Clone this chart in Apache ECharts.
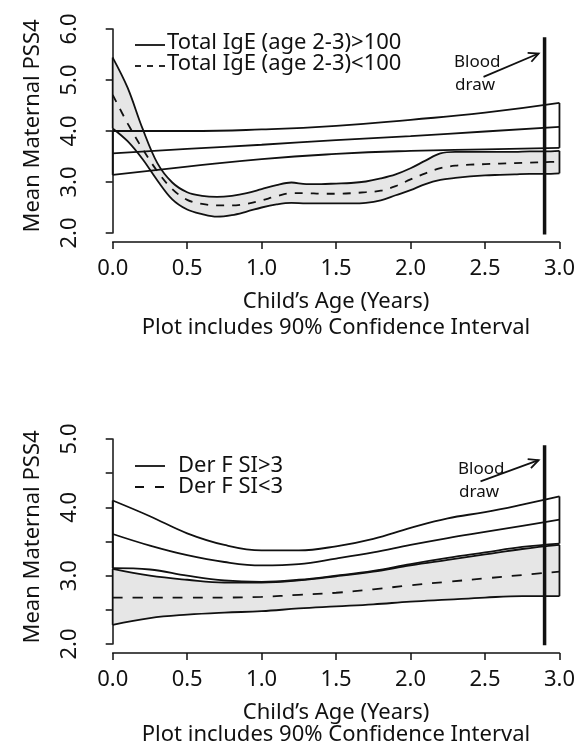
<!DOCTYPE html>
<html><head><meta charset="utf-8">
<script src="https://cdn.jsdelivr.net/npm/echarts@6/dist/echarts.min.js"></script>
<style>html,body{margin:0;padding:0;background:#fff}#c{width:578px;height:755px}</style>
</head><body><div id="c"></div>
<script>
// ---------- DATA ----------
// Top panel: Total IgE (age 2-3) < 100  (dashed mean, shaded 90% CI)
const ageTopLow = [0,0.1,0.2,0.3,0.4,0.5,0.6,0.7,0.8,0.9,1.0,1.1,1.2,1.3,1.4,1.5,1.6,1.7,1.8,1.9,2.0,2.1,2.2,2.3,2.4,2.5,2.6,2.7,2.8,2.9,3.0];
const igeLowUpper = [5.44,4.85,4.05,3.37,2.99,2.80,2.73,2.71,2.73,2.78,2.86,2.94,2.99,2.96,2.96,2.97,2.98,3.01,3.07,3.15,3.27,3.42,3.56,3.59,3.59,3.59,3.59,3.59,3.60,3.60,3.61];
const igeLowMean  = [4.71,4.15,3.65,3.21,2.86,2.65,2.57,2.54,2.54,2.57,2.64,2.72,2.78,2.78,2.77,2.77,2.78,2.80,2.83,2.92,3.05,3.17,3.27,3.32,3.34,3.35,3.36,3.37,3.38,3.39,3.40];
const igeLowLower = [4.05,3.80,3.45,3.03,2.66,2.46,2.37,2.32,2.35,2.42,2.50,2.56,2.59,2.58,2.58,2.58,2.58,2.59,2.64,2.74,2.84,2.96,3.04,3.08,3.11,3.13,3.14,3.15,3.16,3.16,3.17];
// Top panel: Total IgE (age 2-3) > 100  (solid mean, unshaded 90% CI)
const ageTopHigh = [0,0.5,1.0,1.5,2.0,2.5,3.0];
const igeHighUpper = [4.00,4.00,4.03,4.10,4.22,4.36,4.55];
const igeHighMean  = [3.56,3.65,3.73,3.82,3.90,3.99,4.08];
const igeHighLower = [3.14,3.30,3.45,3.55,3.61,3.64,3.67];
// Bottom panel: Der F SI
const ageBottom = [0,0.25,0.5,0.75,1.0,1.25,1.5,1.75,2.0,2.25,2.5,2.75,3.0];
const derHighUpper = [4.10,3.87,3.62,3.45,3.37,3.37,3.43,3.54,3.70,3.84,3.93,4.04,4.16];
const derHighMean  = [3.61,3.44,3.30,3.20,3.15,3.17,3.25,3.34,3.45,3.55,3.64,3.73,3.82];
const derHighLower = [3.11,3.09,3.00,2.93,2.91,2.94,3.00,3.07,3.17,3.26,3.34,3.42,3.47];
const derLowUpper  = [3.10,3.00,2.94,2.90,2.90,2.93,2.99,3.06,3.15,3.23,3.31,3.39,3.45];
const derLowMean   = [2.68,2.68,2.68,2.68,2.69,2.72,2.75,2.80,2.86,2.91,2.96,3.01,3.06];
const derLowLower  = [2.28,2.38,2.43,2.46,2.48,2.52,2.55,2.58,2.62,2.65,2.68,2.70,2.70];
// Blood draw marker (age, y-range) and arrow (start, end) for each panel
const bloodAge = 2.9;
const bloodRangeTop = [1.97, 5.84];
const bloodRangeBottom = [1.98, 4.91];
const arrowTop = [[2.49,5.06],[2.86,5.52]];
const arrowBottom = [[2.47,4.38],[2.86,4.69]];
// Texts
const legendTop = ['Total IgE (age 2-3)>100','Total IgE (age 2-3)<100'];
const legendBottom = ['Der F SI>3','Der F SI<3'];
const xTitle = 'Child’s Age (Years)';
const subTitle = 'Plot includes 90% Confidence Interval';
const yTitle = 'Mean Maternal PSS4';

// ---------- CHART ----------
const FONT = 'Noto Sans';
const INK = '#111';
const GRAY = '#e6e6e6';
const chart = echarts.init(document.getElementById('c'), null, {renderer:'canvas'});

function pts(xs, ys){ return xs.map((x,i)=>[x, ys[i]]); }
function lineS(gi, data, dash, width, smooth, z){
  return {type:'line', xAxisIndex:gi, yAxisIndex:gi, data:data, symbol:'none', smooth:smooth,
    silent:true, clip:false, z:z||3, animation:false,
    lineStyle:{color:INK, width:width||1.8, type:dash||'solid', cap:'butt'}};
}
// shaded band: stacked area (lower bound + band width). Data given as [y, x] so that
// the y dimension is the stacked one.
function band(gi, xs, lo, up, smooth, key){
  const common = {type:'line', xAxisIndex:gi, yAxisIndex:gi, stack:key, symbol:'none', smooth:smooth,
    encode:{x:1, y:0}, silent:true, animation:false, z:1};
  return [
    Object.assign({}, common, {data:xs.map((x,i)=>[lo[i], x]), lineStyle:{opacity:0, width:0}}),
    Object.assign({}, common, {data:xs.map((x,i)=>[up[i]-lo[i], x]), lineStyle:{opacity:0, width:0},
      areaStyle:{color:GRAY, opacity:1}})
  ];
}
function edges(gi, xs, lo, up){
  const n = xs.length-1;
  return [
    lineS(gi, [[xs[0], lo[0]],[xs[0], up[0]]], 'solid', 1.8, false),
    lineS(gi, [[xs[n], lo[n]],[xs[n], up[n]]], 'solid', 1.8, false)
  ];
}
function xAx(gi){
  return {type:'value', gridIndex:gi, min:0, max:3, interval:0.5, offset:9,
    axisLine:{show:true, lineStyle:{color:INK, width:1.5}},
    axisTick:{show:true, length:7, lineStyle:{color:INK, width:1.5}},
    axisLabel:{margin:16, color:INK, fontSize:22, fontFamily:FONT, showMinLabel:true, showMaxLabel:true,
      formatter:v=>v.toFixed(1)},
    splitLine:{show:false},
    name:xTitle, nameLocation:'middle', nameGap:49,
    nameTextStyle:{color:INK, fontSize:22, fontFamily:FONT}};
}
function yAx(gi, max, interval){
  return {type:'value', gridIndex:gi, min:2, max:max, interval:interval, offset:19.4,
    axisLine:{show:true, lineStyle:{color:INK, width:1.5}},
    axisTick:{show:true, length:7, lineStyle:{color:INK, width:1.5}},
    axisLabel:{rotate:90, margin:13, color:INK, fontSize:22, fontFamily:FONT, showMinLabel:true, showMaxLabel:true,
      formatter:v=> Math.abs(v-Math.round(v))<1e-6 ? v.toFixed(1) : ''},
    splitLine:{show:false}};
}

const series = [].concat(
  band(0, ageTopLow, igeLowLower, igeLowUpper, 0.35, 'topBand'),
  [lineS(0, pts(ageTopLow, igeLowUpper), 'solid', 1.8, 0.35),
   lineS(0, pts(ageTopLow, igeLowLower), 'solid', 1.8, 0.35),
   lineS(0, pts(ageTopLow, igeLowMean), [8,8], 1.8, 0.35)],
  edges(0, ageTopLow, igeLowLower, igeLowUpper),
  [lineS(0, pts(ageTopHigh, igeHighUpper), 'solid', 1.8, 0.5),
   lineS(0, pts(ageTopHigh, igeHighMean), 'solid', 1.8, 0.5),
   lineS(0, pts(ageTopHigh, igeHighLower), 'solid', 1.8, 0.5)],
  edges(0, ageTopHigh, igeHighLower, igeHighUpper),
  [lineS(0, [[bloodAge, bloodRangeTop[0]],[bloodAge, bloodRangeTop[1]]], 'solid', 3.5, false, 5)],

  band(1, ageBottom, derLowLower, derLowUpper, 0.4, 'botBand'),
  [lineS(1, pts(ageBottom, derLowUpper), 'solid', 1.8, 0.4),
   lineS(1, pts(ageBottom, derLowLower), 'solid', 1.8, 0.4),
   lineS(1, pts(ageBottom, derLowMean), [10,10], 1.8, 0.4)],
  edges(1, ageBottom, derLowLower, derLowUpper),
  [lineS(1, pts(ageBottom, derHighUpper), 'solid', 1.8, 0.4),
   lineS(1, pts(ageBottom, derHighMean), 'solid', 1.8, 0.4),
   lineS(1, pts(ageBottom, derHighLower), 'solid', 1.8, 0.4)],
  edges(1, ageBottom, derHighLower, derHighUpper),
  [lineS(1, [[bloodAge, bloodRangeBottom[0]],[bloodAge, bloodRangeBottom[1]]], 'solid', 3.5, false, 5)]
);

chart.setOption({
  animation:false,
  backgroundColor:'#fff',
  grid:[
    {left:112.7, right:18.5, top:29, height:204},
    {left:112.7, right:18.5, top:439, height:205}
  ],
  xAxis:[xAx(0), xAx(1)],
  yAxis:[yAx(0, 6, 1), yAx(1, 5, 0.5)],
  series:series
});

// ---------- ANNOTATIONS ----------
function txt(x, y, s, size, rot){
  return {type:'text', x:x, y:y, rotation:rot||0, silent:true,
    style:{text:s, fill:INK, fontSize:size||22, fontFamily:FONT, align: rot ? 'center':'left', verticalAlign:'middle'}};
}
function seg(x1,y1,x2,y2,dash){
  return {type:'line', silent:true, shape:{x1:x1,y1:y1,x2:x2,y2:y2},
    style:{stroke:INK, lineWidth:1.8, lineDash:dash||null}};
}
function arrow(gi, a){
  const p0 = chart.convertToPixel({gridIndex:gi}, a[0]);
  const p1 = chart.convertToPixel({gridIndex:gi}, a[1]);
  const ang = Math.atan2(p1[1]-p0[1], p1[0]-p0[0]);
  const L = 11, w = 0.45;
  const h1 = [p1[0]-L*Math.cos(ang-w), p1[1]-L*Math.sin(ang-w)];
  const h2 = [p1[0]-L*Math.cos(ang+w), p1[1]-L*Math.sin(ang+w)];
  return [
    {type:'polyline', silent:true, shape:{points:[p0,p1]}, style:{stroke:INK, lineWidth:1.8, fill:null}},
    {type:'polyline', silent:true, shape:{points:[h1,p1,h2]}, style:{stroke:INK, lineWidth:1.8, fill:null}}
  ];
}
const g = [
  txt(33, 126, yTitle, 22, Math.PI/2),
  txt(33, 537, yTitle, 22, Math.PI/2),
  {type:'text', x:336, y:328, silent:true, style:{text:subTitle, fill:INK, fontSize:22, fontFamily:FONT, align:'center', verticalAlign:'middle'}},
  {type:'text', x:336, y:735, silent:true, style:{text:subTitle, fill:INK, fontSize:22, fontFamily:FONT, align:'center', verticalAlign:'middle'}},
  seg(135, 45, 165, 45),
  txt(167, 43, legendTop[0]),
  seg(135, 66, 166, 66, [6,6]),
  txt(167, 64, legendTop[1]),
  seg(135, 466, 165, 466),
  txt(178, 466, legendBottom[0]),
  seg(135, 487, 166, 487, [9,11]),
  txt(178, 487, legendBottom[1]),
  txt(454, 62.5, 'Blood', 17),
  txt(455, 85.5, 'draw', 17),
  txt(458, 469, 'Blood', 17),
  txt(459, 492.5, 'draw', 17)
].concat(arrow(0, arrowTop), arrow(1, arrowBottom));
chart.setOption({graphic:g});
</script></body></html>
